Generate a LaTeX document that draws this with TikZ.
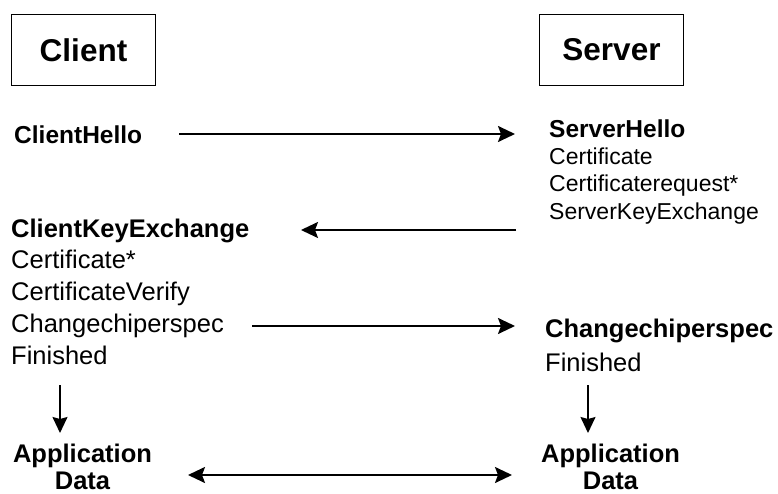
\documentclass[tikz,border=0pt]{standalone}
\usepackage{fontspec}
\setmainfont{Liberation Sans}
\usetikzlibrary{arrows.meta}
\begin{document}
\begin{tikzpicture}[x=1pt,y=-1pt,
  txt/.style={anchor=base west,inner sep=0pt},
  ftA/.style={font=\fontsize{24.5}{29}\selectfont\bfseries},
  ftB/.style={font=\fontsize{23}{27}\selectfont},
  ftC/.style={font=\fontsize{25.5}{31}\selectfont},
  ftCb/.style={font=\fontsize{25.5}{31}\selectfont\bfseries},
  ftD/.style={font=\fontsize{25.5}{31}\selectfont\bfseries},
  msg/.style={line width=2pt,-{Stealth[length=17pt,width=16pt,inset=3pt]}},
  vmsg/.style={line width=1.5pt,-{Stealth[length=16pt,width=15pt,inset=2pt]}},
  dmsg/.style={line width=2pt,{Stealth[length=17pt,width=16pt,inset=3pt]}-{Stealth[length=17pt,width=16pt,inset=3pt]}},
  box/.style={draw,line width=1.5pt,minimum width=144pt,minimum height=71pt,inner sep=0pt,
    font=\fontsize{31.5}{37}\selectfont\bfseries}]
\useasboundingbox (0,0) rectangle (778,494);
% boxes
\node[box] (client) at (83.5,50) {Client};
\node[box] (server) at (611.5,50) {Server};
% left texts
\node[txt,ftA] (chello) at (14,144) {ClientHello};
\node[txt,ftCb] (cke) at (11,237) {ClientKeyExchange};
\node[txt,ftC] (ccert) at (11,268) {Certificate*};
\node[txt,ftC] (cverify) at (11,300) {CertificateVerify};
\node[txt,ftC] (cccs) at (11,332) {Changechiperspec};
\node[txt,ftC] (cfin) at (11,364) {Finished};
% right texts
\node[txt,ftA] (shello) at (549,138) {ServerHello};
\node[txt,ftB] (scert) at (549,165) {Certificate};
\node[txt,ftB] (sreq) at (549,192) {Certificaterequest*};
\node[txt,ftB] (ske) at (549,219) {ServerKeyExchange};
\node[txt,ftCb] (sccs) at (545,337.5) {Changechiperspec};
\node[txt,ftC] (sfin) at (545,371.5) {Finished};
% application data
\node[anchor=base,inner sep=0pt,ftD] (capp) at (82.5,462) {Application};
\node[anchor=base,inner sep=0pt,ftD] (cdata) at (82.5,489) {Data};
\node[anchor=base,inner sep=0pt,ftD] (sapp) at (610.5,462) {Application};
\node[anchor=base,inner sep=0pt,ftD] (sdata) at (610.5,489) {Data};
% arrow end points
\coordinate (h1a) at (179,134); \coordinate (h1b) at (515,134);
\coordinate (h2a) at (516,230); \coordinate (h2b) at (301,230);
\coordinate (h3a) at (252,326); \coordinate (h3b) at (515,326);
\coordinate (v1a) at (60,385);  \coordinate (v1b) at (60,433);
\coordinate (v2a) at (588,385); \coordinate (v2b) at (588,433);
\coordinate (da) at (188,475);  \coordinate (db) at (512,475);
\draw[msg] (h1a) -- (h1b);
\draw[msg] (h2a) -- (h2b);
\draw[msg] (h3a) -- (h3b);
\draw[vmsg] (v1a) -- (v1b);
\draw[vmsg] (v2a) -- (v2b);
\draw[dmsg] (da) -- (db);
\end{tikzpicture}
\end{document}
